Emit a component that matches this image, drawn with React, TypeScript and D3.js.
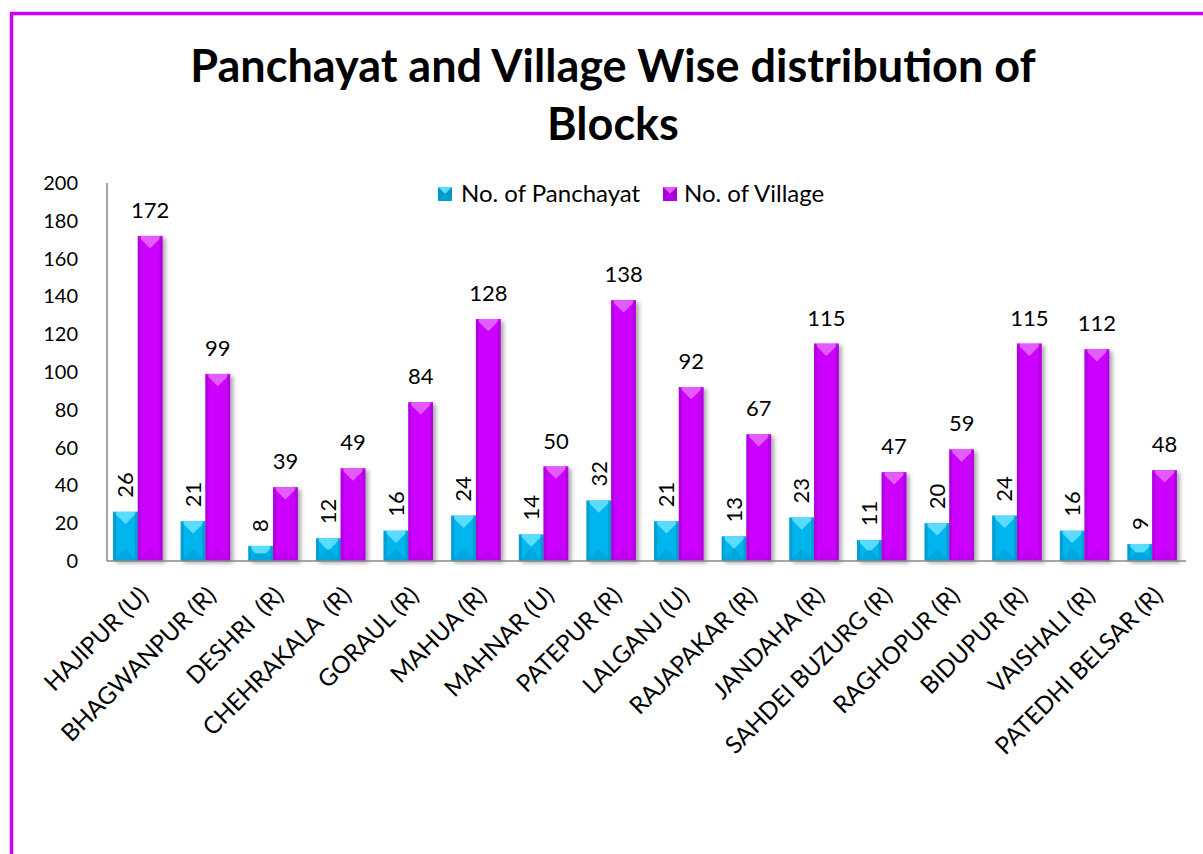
import React from 'react';
import * as d3 from 'd3';

// block names (x axis)
const blocks = [
  'HAJIPUR (U)', 'BHAGWANPUR (R)', 'DESHRI  (R)', 'CHEHRAKALA  (R)', 'GORAUL (R)',
  'MAHUA (R)', 'MAHNAR (U)', 'PATEPUR (R)', 'LALGANJ (U)', 'RAJAPAKAR (R)',
  'JANDAHA (R)', 'SAHDEI BUZURG (R)', 'RAGHOPUR (R)', 'BIDUPUR (R)', 'VAISHALI (R)',
  'PATEDHI BELSAR (R)',
];
const panchayats = [26, 21, 8, 12, 16, 24, 14, 32, 21, 13, 23, 11, 20, 24, 16, 9];
const villages = [172, 99, 39, 49, 84, 128, 50, 138, 92, 67, 115, 47, 59, 115, 112, 48];
const yTicks = [0, 20, 40, 60, 80, 100, 120, 140, 160, 180, 200];
const seriesNames = ['No. of Panchayat', 'No. of Village'];

const W = 1203, H = 854;
const FONT = 'Lato, "Open Sans", sans-serif';
const plot = { left: 104, right: 1186, top: 183, bottom: 561 };

const blue = { base: '#00B4EE', top: '#5ADCFF', side: '#0096C8', bottom: '#009FD6' };
const purple = { base: '#CC00FF', top: '#E45CFF', side: '#A800D4', bottom: '#B800E6' };

function BevelBar({ x, y, w, h, c }: { x: number; y: number; w: number; h: number; c: any }) {
  const b = Math.min(12, w / 2, h / 2);
  const s = 3;
  return (
    <g>
      <rect x={x} y={y} width={w} height={h} fill={c.base} filter="url(#shadow)" />
      <polygon points={`${x},${y} ${x + w},${y} ${x + w - b},${y + b} ${x + b},${y + b}`} fill={c.top} />
      <polygon points={`${x},${y + h} ${x + w},${y + h} ${x + w - b},${y + h - b} ${x + b},${y + h - b}`} fill={c.bottom} opacity={0.6} />
      <rect x={x} y={y} width={s} height={h} fill={c.side} opacity={0.7} />
      <rect x={x + w - s} y={y} width={s} height={h} fill={c.side} opacity={0.7} />
    </g>
  );
}

function LegendMark({ x, y, c }: { x: number; y: number; c: any }) {
  const s = 14, m = s / 2;
  return (
    <g>
      <rect x={x} y={y} width={s} height={s} fill={c.base} />
      <polygon points={`${x},${y} ${x + s},${y} ${x + m},${y + m}`} fill={c.top} />
      <polygon points={`${x},${y} ${x},${y + s} ${x + m},${y + m}`} fill={c.side} />
      <polygon points={`${x + s},${y} ${x + s},${y + s} ${x + m},${y + m}`} fill={c.side} />
      <polygon points={`${x},${y + s} ${x + s},${y + s} ${x + m},${y + m}`} fill={c.bottom} />
    </g>
  );
}

export default function App() {
  const x = d3.scaleBand<string>().domain(blocks).range([plot.left, plot.right]).paddingInner(0.27).paddingOuter(0.135);
  const y = d3.scaleLinear().domain([0, 200]).range([plot.bottom, plot.top]);
  const bw = x.bandwidth() / 2;

  return (
    <svg width={W} height={H} style={{ position: 'absolute', left: 0, top: 0, background: '#fff' }}>
      <defs>
        <filter id="shadow" x="-20%" y="-10%" width="150%" height="130%">
          <feDropShadow dx="3" dy="2" stdDeviation="2" floodColor="#000" floodOpacity="0.35" />
        </filter>
      </defs>
      {/* frame */}
      <line x1={10} y1={13.5} x2={W} y2={13.5} stroke="#CC00FF" strokeWidth={3.5} />
      <line x1={11.5} y1={12} x2={11.5} y2={H} stroke="#CC00FF" strokeWidth={3.5} />

      {/* title */}
      <text x={613} y={82} textAnchor="middle" fontFamily={FONT} fontWeight="bold" fontSize={45} fill="#000">
        Panchayat and Village Wise distribution of
      </text>
      <text x={613} y={140} textAnchor="middle" fontFamily={FONT} fontWeight="bold" fontSize={45} fill="#000">
        Blocks
      </text>

      {/* legend */}
      <LegendMark x={438} y={187} c={blue} />
      <text x={461} y={202} fontFamily={FONT} fontSize={24}>{seriesNames[0]}</text>
      <LegendMark x={663} y={187} c={purple} />
      <text x={684} y={202} fontFamily={FONT} fontSize={24}>{seriesNames[1]}</text>

      {/* y axis */}
      {yTicks.map(t => (
        <text key={t} x={78} y={y(t)} dy="0.35em" textAnchor="end" fontFamily={FONT} fontSize={20}>{t}</text>
      ))}

      {/* bars */}
      {blocks.map((b, i) => {
        const x0 = x(b)!;
        const pv = panchayats[i], vv = villages[i];
        return (
          <g key={b}>
            <BevelBar x={x0} y={y(pv)} w={bw} h={plot.bottom - y(pv)} c={blue} />
            <BevelBar x={x0 + bw} y={y(vv)} w={bw} h={plot.bottom - y(vv)} c={purple} />
            <text transform={`translate(${x0 + bw / 2},${y(pv) - 14}) rotate(-90)`} dy="0.35em"
              fontFamily={FONT} fontSize={22}>{pv}</text>
            <text x={x0 + bw * 1.5} y={y(vv) - 18} textAnchor="middle" fontFamily={FONT} fontSize={22}>{vv}</text>
            <text transform={`translate(${x0 + bw + 12},${plot.bottom + 36}) rotate(-45)`} textAnchor="end"
              fontFamily={FONT} fontSize={24} style={{ whiteSpace: 'pre' }}>{b}</text>
          </g>
        );
      })}

      {/* axis lines */}
      <line x1={107} y1={plot.top} x2={107} y2={plot.bottom} stroke="#888" strokeWidth={1.5} />
      <line x1={107} y1={plot.bottom} x2={plot.right} y2={plot.bottom} stroke="#888" strokeWidth={1.5} />
    </svg>
  );
}
